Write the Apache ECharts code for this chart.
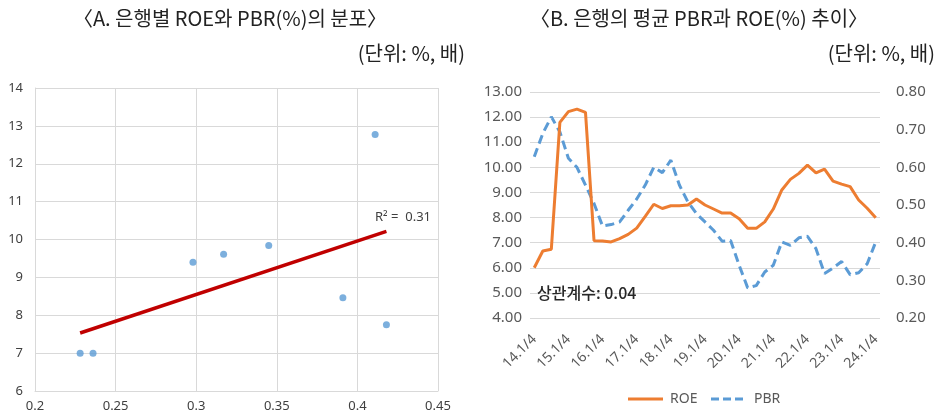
<!DOCTYPE html>
<html>
<head>
<meta charset="utf-8">
<script src="https://cdn.jsdelivr.net/npm/echarts@6/dist/echarts.min.js"></script>
<style>
  html, body { margin: 0; padding: 0; background: #fff; }
  #chart { width: 937px; height: 413px; }
</style>
</head>
<body>
<div id="chart"></div>
<script>
// Panel A: per-bank PBR (x, 배) and ROE (y, %)
const bankPBR = [0.228, 0.236, 0.298, 0.317, 0.345, 0.391, 0.418, 0.411];
const bankROE = [7.00, 7.00, 9.40, 9.61, 9.84, 8.46, 7.75, 12.77];
const rSquaredText = 'R² =  0.31';

// Panel B: quarterly average ROE (%) and PBR (배)
const quarters = [
  '14.1/4','14.2/4','14.3/4','14.4/4',
  '15.1/4','15.2/4','15.3/4','15.4/4',
  '16.1/4','16.2/4','16.3/4','16.4/4',
  '17.1/4','17.2/4','17.3/4','17.4/4',
  '18.1/4','18.2/4','18.3/4','18.4/4',
  '19.1/4','19.2/4','19.3/4','19.4/4',
  '20.1/4','20.2/4','20.3/4','20.4/4',
  '21.1/4','21.2/4','21.3/4','21.4/4',
  '22.1/4','22.2/4','22.3/4','22.4/4',
  '23.1/4','23.2/4','23.3/4','23.4/4',
  '24.1/4'
];
const avgROE = [
  6.00, 6.67, 6.74, 11.79,
  12.22, 12.32, 12.19, 7.08,
  7.07, 7.03, 7.16, 7.33,
  7.58, 8.05, 8.53, 8.36,
  8.47, 8.47, 8.50, 8.74,
  8.50, 8.34, 8.18, 8.18,
  7.95, 7.57, 7.57, 7.83,
  8.34, 9.10, 9.52, 9.76,
  10.09, 9.78, 9.93, 9.45,
  9.33, 9.23, 8.70, 8.37,
  7.99
];
const avgPBR = [
  0.628, 0.690, 0.734, 0.694,
  0.624, 0.600, 0.553, 0.504,
  0.444, 0.448, 0.455, 0.486,
  0.516, 0.553, 0.600, 0.586,
  0.619, 0.553, 0.508, 0.477,
  0.455, 0.433, 0.404, 0.406,
  0.340, 0.280, 0.286, 0.322,
  0.340, 0.402, 0.393, 0.413,
  0.417, 0.384, 0.318, 0.333,
  0.350, 0.315, 0.320, 0.344,
  0.402
];
const corrText = '상관계수: 0.04';
const seriesNames = ['ROE', 'PBR'];

// Least-squares trend line over the bank scatter
function linearFit(xs, ys) {
  const n = xs.length;
  const mx = xs.reduce((a, b) => a + b, 0) / n;
  const my = ys.reduce((a, b) => a + b, 0) / n;
  let sxy = 0, sxx = 0;
  for (let i = 0; i < n; i++) {
    sxy += (xs[i] - mx) * (ys[i] - my);
    sxx += (xs[i] - mx) * (xs[i] - mx);
  }
  const slope = sxy / sxx;
  return { slope, intercept: my - slope * mx };
}
const fit = linearFit(bankPBR, bankROE);
const xLo = Math.min(...bankPBR), xHi = Math.max(...bankPBR);
const trendData = [
  [xLo, fit.intercept + fit.slope * xLo],
  [xHi, fit.intercept + fit.slope * xHi]
];

const KR = '"Noto Sans CJK KR", "Noto Sans", sans-serif';
const NUM = '"Noto Sans", "Open Sans", sans-serif';
const gridColor = '#d9d9d9';
const labelColor = '#595959';
const roeColor = '#ed7d31';
const pbrColor = '#5b9bd5';
const pbrDash = [9, 5];

const chart = echarts.init(document.getElementById('chart'), null, { renderer: 'canvas' });

chart.setOption({
  animation: false,
  backgroundColor: '#ffffff',
  graphic: [
    { type: 'text', x: 230, y: 18, style: { text: '〈A. 은행별 ROE와 PBR(%)의 분포〉', font: '20px ' + KR, fill: '#222', align: 'center', verticalAlign: 'middle' } },
    { type: 'text', x: 465, y: 53, style: { text: '(단위: %, 배)', font: '20px ' + KR, fill: '#222', align: 'right', verticalAlign: 'middle' } },
    { type: 'text', x: 699, y: 18, style: { text: '〈B. 은행의 평균 PBR과 ROE(%) 추이〉', font: '20px ' + KR, fill: '#222', align: 'center', verticalAlign: 'middle' } },
    { type: 'text', x: 935, y: 53, style: { text: '(단위: %, 배)', font: '20px ' + KR, fill: '#222', align: 'right', verticalAlign: 'middle' } },
    { type: 'text', x: 375, y: 217, style: { text: rSquaredText, font: '13px ' + NUM, fill: '#404040', align: 'left', verticalAlign: 'middle' } },
    { type: 'text', x: 537, y: 293, z: 10, style: { text: corrText, font: '500 16px ' + KR, fill: '#262626', align: 'left', verticalAlign: 'middle' } },
    // legend keys for the line series
    { type: 'line', shape: { x1: 628, y1: 399, x2: 663, y2: 399 }, style: { stroke: roeColor, lineWidth: 3 } },
    { type: 'text', x: 670, y: 399, style: { text: seriesNames[0], font: '14px ' + NUM, fill: labelColor, align: 'left', verticalAlign: 'middle' } },
    { type: 'line', shape: { x1: 711, y1: 399, x2: 744, y2: 399 }, style: { stroke: pbrColor, lineWidth: 3, lineDash: [8, 4] } },
    { type: 'text', x: 754, y: 399, style: { text: seriesNames[1], font: '14px ' + NUM, fill: labelColor, align: 'left', verticalAlign: 'middle' } }
  ],
  grid: [
    { left: 35, top: 88, width: 403, height: 304 },
    { left: 530, top: 92, width: 350, height: 226 }
  ],
  xAxis: [
    {
      type: 'value', gridIndex: 0, min: 0.2, max: 0.45, interval: 0.05,
      axisLine: { show: true, lineStyle: { color: gridColor } },
      axisTick: { show: false },
      splitLine: { show: true, lineStyle: { color: gridColor } },
      axisLabel: { color: '#404040', fontFamily: NUM, fontSize: 13, margin: 9 }
    },
    {
      type: 'category', gridIndex: 1, data: quarters, boundaryGap: true,
      axisLine: { show: false },
      axisTick: { show: false },
      axisLabel: { interval: 3, rotate: 45, color: labelColor, fontFamily: NUM, fontSize: 14, margin: 19 }
    }
  ],
  yAxis: [
    {
      type: 'value', gridIndex: 0, min: 6, max: 14, interval: 1,
      axisLine: { show: true, lineStyle: { color: gridColor } },
      axisTick: { show: false },
      splitLine: { show: true, lineStyle: { color: gridColor } },
      axisLabel: { color: '#404040', fontFamily: NUM, fontSize: 13, margin: 12 }
    },
    {
      type: 'value', gridIndex: 1, position: 'left', min: 4, max: 13, interval: 1,
      axisLine: { show: false }, axisTick: { show: false },
      splitLine: { show: true, lineStyle: { color: gridColor } },
      axisLabel: { color: labelColor, fontFamily: NUM, fontSize: 15, margin: 8, formatter: v => v.toFixed(2) }
    },
    {
      type: 'value', gridIndex: 1, position: 'right', min: 0.2, max: 0.8, interval: 0.1,
      axisLine: { show: false }, axisTick: { show: false },
      splitLine: { show: false },
      axisLabel: { color: labelColor, fontFamily: NUM, fontSize: 15, margin: 16, formatter: v => v.toFixed(2) }
    }
  ],
  series: [
    {
      name: 'banks', type: 'scatter', xAxisIndex: 0, yAxisIndex: 0,
      data: bankPBR.map((x, i) => [x, bankROE[i]]),
      symbolSize: 7,
      itemStyle: { color: pbrColor },
      z: 3
    },
    {
      name: 'trend', type: 'line', xAxisIndex: 0, yAxisIndex: 0,
      data: trendData, symbol: 'none',
      lineStyle: { color: '#c00000', width: 3.5 },
      z: 2
    },
    {
      name: seriesNames[0], type: 'line', xAxisIndex: 1, yAxisIndex: 1,
      data: avgROE, symbol: 'none',
      lineStyle: { color: roeColor, width: 3 },
      z: 3
    },
    {
      name: seriesNames[1], type: 'line', xAxisIndex: 1, yAxisIndex: 2,
      data: avgPBR, symbol: 'none',
      lineStyle: { color: pbrColor, width: 3, type: pbrDash },
      z: 2
    }
  ]
});
</script>
</body>
</html>
